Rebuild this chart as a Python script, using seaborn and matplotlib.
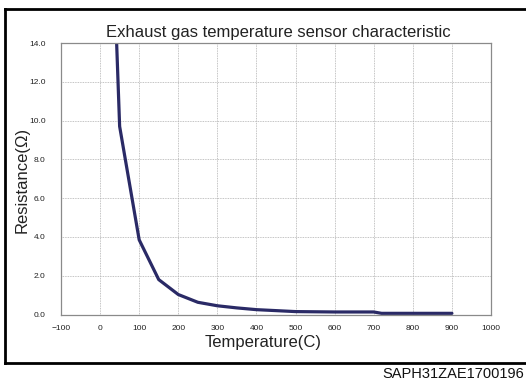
import matplotlib
matplotlib.use("Agg")
import matplotlib.pyplot as plt
from matplotlib.lines import Line2D
from matplotlib.ticker import MultipleLocator, FormatStrFormatter
import seaborn as sns
import pandas as pd

# Sensor characteristic: temperature (C) vs resistance (ohm)
temperature = [40, 50, 100, 150, 200, 250, 300, 350, 400, 450, 500,
               550, 600, 650, 700, 720, 800, 900]
resistance = [15.3, 9.7, 3.85, 1.8, 1.03, 0.63, 0.45, 0.34, 0.25, 0.2, 0.15,
              0.14, 0.13, 0.13, 0.13, 0.06, 0.06, 0.06]

x_ticks = list(range(-100, 1001, 100))
y_ticks = [0.0, 2.0, 4.0, 6.0, 8.0, 10.0, 12.0, 14.0]

title = "Exhaust gas temperature sensor characteristic"
x_label = "Temperature(C)"
y_label = "Resistance(\u03a9)"
code_label = "SAPH31ZAE1700196"

sns.set_style("white")
plt.rcParams["font.family"] = ["Liberation Sans", "DejaVu Sans"]

W, H = 526, 380
fig = plt.figure(figsize=(W / 100, H / 100), dpi=100)

left, right, top, bottom = 61, 491, 43, 314.5
ax = fig.add_axes([left / W, 1 - bottom / H, (right - left) / W, (bottom - top) / H])

df = pd.DataFrame({"Temperature": temperature, "Resistance": resistance})
sns.lineplot(data=df, x="Temperature", y="Resistance", ax=ax,
             color="#2a2a66", linewidth=2.3, sort=False)

ax.set_xlim(-100, 1000)
ax.set_ylim(0, 14)
ax.set_xticks(x_ticks)
ax.set_yticks(y_ticks)
ax.xaxis.set_minor_locator(MultipleLocator(50))
ax.yaxis.set_minor_locator(MultipleLocator(0.5))
ax.yaxis.set_major_formatter(FormatStrFormatter("%.1f"))
ax.set_xticklabels([str(v).replace("-", "\u2212") for v in x_ticks])

ax.grid(True, which="major", color="#b0b0b0", linestyle=(0, (1, 1)), linewidth=0.6)
ax.set_axisbelow(True)
for s in ax.spines.values():
    s.set_color("#8a8a8a")
    s.set_linewidth(0.9)

ax.tick_params(axis="both", which="both", direction="in", length=3,
               width=0.7, color="#707070", top=False, right=False,
               labelsize=6, labelcolor="#222222")
ax.tick_params(axis="x", which="both", pad=7.5)
ax.tick_params(axis="y", which="both", pad=11)
ax.set_xlabel("")
ax.set_ylabel("")

fig.text(278 / W, 1 - 37.3 / H, title, ha="center", va="baseline",
         fontsize=12, color="#222222")
fig.text(263 / W, 1 - 347 / H, x_label, ha="center", va="baseline",
         fontsize=12, color="#222222")
fig.text(22.5 / W, 1 - 180 / H, y_label, ha="center", va="center",
         rotation=90, fontsize=12, color="#222222")
fig.text(524 / W, 1 - 377.5 / H, code_label, ha="right", va="baseline",
         fontsize=10.5, color="#111111")

# Outer frame (open on the right)
fx0, fy0, fy1 = 4.6 / W, 1 - 8.7 / H, 1 - 362.5 / H
for xs, ys in [([fx0, 1.02], [fy0, fy0]), ([fx0, fx0], [fy0, fy1]),
               ([fx0, 1.02], [fy1, fy1])]:
    fig.add_artist(Line2D(xs, ys, transform=fig.transFigure, color="black",
                          linewidth=2.0, solid_capstyle="projecting"))

fig.savefig("out.png", dpi=100)
